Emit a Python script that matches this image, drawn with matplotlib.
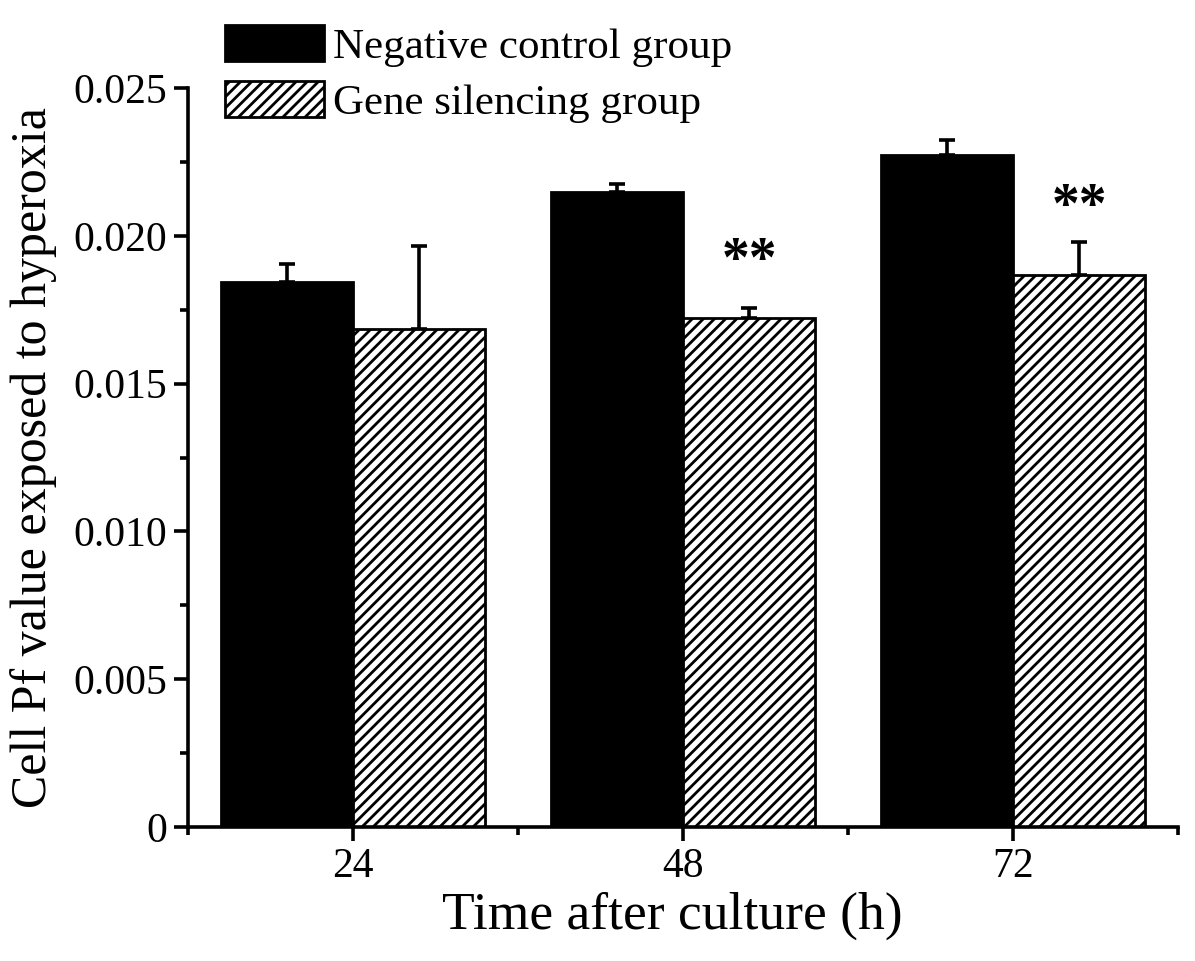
import numpy as np
import matplotlib
matplotlib.use('Agg')
import matplotlib.pyplot as plt
from matplotlib.ticker import MultipleLocator, FixedLocator, FuncFormatter

# Data
times = ['24', '48', '72']
control_mean = [0.01845, 0.02148, 0.02273]
control_sd = [0.00060, 0.00027, 0.00051]
silencing_mean = [0.01685, 0.01722, 0.01868]
silencing_sd = [0.00281, 0.00034, 0.00111]
stars = ['', '**', '**']
star_y = [0.0, 0.01911, 0.02094]

plt.rcParams['font.family'] = ['Liberation Serif', 'DejaVu Serif']
plt.rcParams['hatch.linewidth'] = 2.0
plt.rcParams['hatch.color'] = 'black'

fig = plt.figure(figsize=(11.95, 9.61), dpi=100)
ax = fig.add_axes([0.1573, 0.1394, 0.8285, 0.7690])

x = np.arange(1, len(times) + 1)
w = 0.4

ax.bar(x - w/2, control_mean, w, color='black', edgecolor='black', linewidth=2,
	label='Negative control group', zorder=2)
ax.bar(x + w/2, silencing_mean, w, color='white', edgecolor='black', linewidth=2,
	hatch='///', label='Gene silencing group', zorder=2)

# Upper error bars only
ax.errorbar(x - w/2, control_mean, yerr=[np.zeros(3), control_sd], fmt='none',
	ecolor='black', elinewidth=2.6, capsize=5.5, capthick=2.6, zorder=1)
ax.errorbar(x + w/2, silencing_mean, yerr=[np.zeros(3), silencing_sd], fmt='none',
	ecolor='black', elinewidth=2.6, capsize=5.5, capthick=2.6, zorder=1)

# Significance markers
for xi, s, sy in zip(x + w/2, stars, star_y):
	if s:
		ax.text(xi, sy, s, ha='center', va='center', fontsize=40, fontweight='bold')

ax.set_xlim(0.5, 3.5)
ax.set_ylim(0, 0.025)
ax.set_xticks(x)
ax.set_xticklabels(times)
ax.xaxis.set_minor_locator(FixedLocator([0.5, 1.5, 2.5, 3.5]))
ax.yaxis.set_major_locator(MultipleLocator(0.005))
ax.yaxis.set_minor_locator(MultipleLocator(0.0025))
ax.yaxis.set_major_formatter(FuncFormatter(lambda v, p: '0' if v == 0 else '%.3f' % v))

for side in ['top', 'right']:
	ax.spines[side].set_visible(False)
for side in ['left', 'bottom']:
	ax.spines[side].set_linewidth(2.6)

ax.tick_params(which='major', direction='out', length=10, width=2.6, labelsize=30, pad=5)
ax.tick_params(which='minor', direction='out', length=6, width=2.6)

ax.set_xlabel('Time after culture (h)', fontsize=38.5)
ax.xaxis.set_label_coords(0.489, -0.088)
ax.set_ylabel('Cell Pf value exposed to hyperoxia', fontsize=36, labelpad=12)

fig.legend(loc='upper left', bbox_to_anchor=(0.181, 0.983), frameon=False,
	fontsize=31, handlelength=2.3, handleheight=0.9, handletextpad=0.2,
	labelspacing=0.33, borderpad=0.2, borderaxespad=0)

plt.savefig('out.png', dpi=100)
plt.close()
